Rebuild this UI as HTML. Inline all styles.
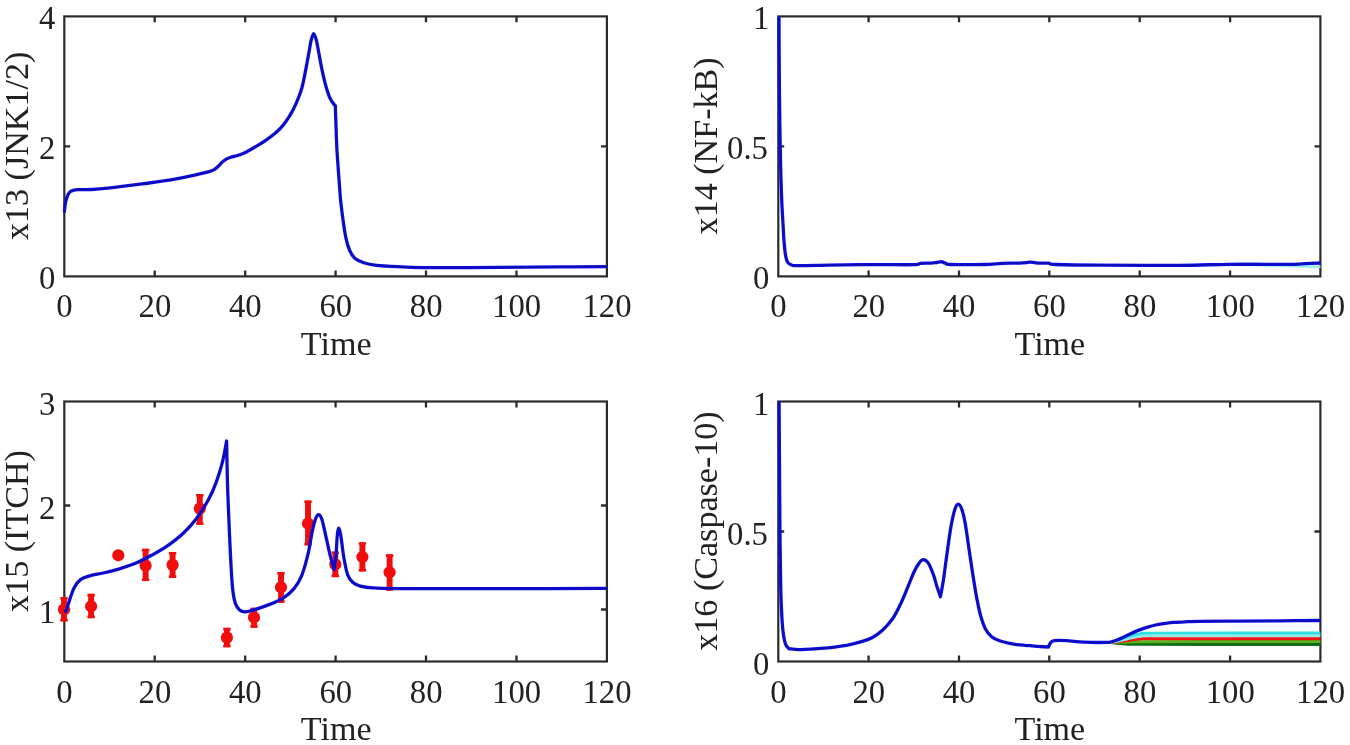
<!DOCTYPE html>
<html lang="en">
<head>
<meta charset="utf-8">
<title>Simulation time courses: x13 (JNK1/2), x14 (NF-kB), x15 (ITCH), x16 (Caspase-10)</title>
<style>
  html, body { margin:0; padding:0; background:#ffffff; }
  body { width:1350px; height:745px; overflow:hidden; font-family:"Liberation Serif", serif; }
  svg { display:block; }
  svg text { font-family:"Liberation Serif", serif; }
</style>
</head>
<body>
<svg width="1350" height="745" viewBox="0 0 1350 745">
<defs><filter id="bl" x="-2%" y="-2%" width="104%" height="104%"><feGaussianBlur stdDeviation="0.7"/></filter></defs>
<rect width="1350" height="745" fill="#fff"/>
<g filter="url(#bl)">
<g id="panel1">
<clipPath id="cp1"><rect x="62.699999999999996" y="14.799999999999999" width="545.8000000000001" height="263.2"/></clipPath>
<rect x="64.3" y="16.4" width="542.6" height="260.0" fill="none" stroke="#2c2c2c" stroke-width="2.2"/>
<path d="M154.7,276.4 v-5.9 M154.7,16.4 v5.9 M245.2,276.4 v-5.9 M245.2,16.4 v5.9 M335.6,276.4 v-5.9 M335.6,16.4 v5.9 M426.0,276.4 v-5.9 M426.0,16.4 v5.9 M516.5,276.4 v-5.9 M516.5,16.4 v5.9 M64.3,146.4 h5.9 M606.9,146.4 h-5.9" stroke="#2c2c2c" stroke-width="2.3" fill="none"/>
<g font-family="'Liberation Serif', serif" font-size="34.5" fill="#222222" letter-spacing="0">
<text transform="translate(64.5,317.4) scale(0.95,1)" text-anchor="middle">0</text>
<text transform="translate(154.9,317.4) scale(0.95,1)" text-anchor="middle">20</text>
<text transform="translate(245.3,317.4) scale(0.95,1)" text-anchor="middle">40</text>
<text transform="translate(335.8,317.4) scale(0.95,1)" text-anchor="middle">60</text>
<text transform="translate(426.2,317.4) scale(0.95,1)" text-anchor="middle">80</text>
<text transform="translate(516.6,317.4) scale(0.95,1)" text-anchor="middle">100</text>
<text transform="translate(607.0,317.4) scale(0.95,1)" text-anchor="middle">120</text>
<text transform="translate(55.3,289.4) scale(0.95,1)" text-anchor="end">0</text>
<text transform="translate(55.3,159.4) scale(0.95,1)" text-anchor="end">2</text>
<text transform="translate(55.3,29.4) scale(0.95,1)" text-anchor="end">4</text>
</g>
<g font-family="'Liberation Serif', serif" font-size="34.1" fill="#222222">
<text x="336.2" y="355.1" text-anchor="middle">Time</text>
<text transform="translate(28.1,145.9) rotate(-90)" text-anchor="middle">x13 (JNK1/2)</text>
</g>
</g>
<g id="panel2">
<clipPath id="cp2"><rect x="776.6999999999999" y="14.799999999999999" width="545.3000000000002" height="263.2"/></clipPath>
<rect x="778.3" y="16.4" width="542.1" height="260.0" fill="none" stroke="#2c2c2c" stroke-width="2.2"/>
<path d="M868.6,276.4 v-5.9 M868.6,16.4 v5.9 M959.0,276.4 v-5.9 M959.0,16.4 v5.9 M1049.3,276.4 v-5.9 M1049.3,16.4 v5.9 M1139.7,276.4 v-5.9 M1139.7,16.4 v5.9 M1230.1,276.4 v-5.9 M1230.1,16.4 v5.9 M778.3,146.4 h5.9 M1320.4,146.4 h-5.9" stroke="#2c2c2c" stroke-width="2.3" fill="none"/>
<g font-family="'Liberation Serif', serif" font-size="34.5" fill="#222222" letter-spacing="0">
<text transform="translate(778.4,317.4) scale(0.95,1)" text-anchor="middle">0</text>
<text transform="translate(868.8,317.4) scale(0.95,1)" text-anchor="middle">20</text>
<text transform="translate(959.1,317.4) scale(0.95,1)" text-anchor="middle">40</text>
<text transform="translate(1049.5,317.4) scale(0.95,1)" text-anchor="middle">60</text>
<text transform="translate(1139.9,317.4) scale(0.95,1)" text-anchor="middle">80</text>
<text transform="translate(1230.2,317.4) scale(0.95,1)" text-anchor="middle">100</text>
<text transform="translate(1320.6,317.4) scale(0.95,1)" text-anchor="middle">120</text>
<text transform="translate(769.3,289.4) scale(0.95,1)" text-anchor="end">0</text>
<text transform="translate(768.0,159.4) scale(0.95,1)" text-anchor="end">0.5</text>
<text transform="translate(769.3,29.4) scale(0.95,1)" text-anchor="end">1</text>
</g>
<g font-family="'Liberation Serif', serif" font-size="34.1" fill="#222222">
<text x="1049.9" y="355.1" text-anchor="middle">Time</text>
<text transform="translate(716.6,145.9) rotate(-90)" text-anchor="middle">x14 (NF-kB)</text>
</g>
</g>
<g id="panel3">
<clipPath id="cp3"><rect x="62.699999999999996" y="399.9" width="545.8000000000001" height="263.2"/></clipPath>
<rect x="64.3" y="401.5" width="542.6" height="260.0" fill="none" stroke="#2c2c2c" stroke-width="2.2"/>
<path d="M154.7,661.5 v-5.9 M154.7,401.5 v5.9 M245.2,661.5 v-5.9 M245.2,401.5 v5.9 M335.6,661.5 v-5.9 M335.6,401.5 v5.9 M426.0,661.5 v-5.9 M426.0,401.5 v5.9 M516.5,661.5 v-5.9 M516.5,401.5 v5.9 M64.3,609.5 h5.9 M606.9,609.5 h-5.9 M64.3,505.5 h5.9 M606.9,505.5 h-5.9" stroke="#2c2c2c" stroke-width="2.3" fill="none"/>
<g font-family="'Liberation Serif', serif" font-size="34.5" fill="#222222" letter-spacing="0">
<text transform="translate(64.5,702.5) scale(0.95,1)" text-anchor="middle">0</text>
<text transform="translate(154.9,702.5) scale(0.95,1)" text-anchor="middle">20</text>
<text transform="translate(245.3,702.5) scale(0.95,1)" text-anchor="middle">40</text>
<text transform="translate(335.8,702.5) scale(0.95,1)" text-anchor="middle">60</text>
<text transform="translate(426.2,702.5) scale(0.95,1)" text-anchor="middle">80</text>
<text transform="translate(516.6,702.5) scale(0.95,1)" text-anchor="middle">100</text>
<text transform="translate(607.0,702.5) scale(0.95,1)" text-anchor="middle">120</text>
<text transform="translate(55.3,622.5) scale(0.95,1)" text-anchor="end">1</text>
<text transform="translate(55.3,518.5) scale(0.95,1)" text-anchor="end">2</text>
<text transform="translate(55.3,414.5) scale(0.95,1)" text-anchor="end">3</text>
</g>
<g font-family="'Liberation Serif', serif" font-size="34.1" fill="#222222">
<text x="336.2" y="740.2" text-anchor="middle">Time</text>
<text transform="translate(28.1,531.0) rotate(-90)" text-anchor="middle">x15 (ITCH)</text>
</g>
</g>
<g id="panel4">
<clipPath id="cp4"><rect x="776.6999999999999" y="399.9" width="545.3000000000002" height="263.2"/></clipPath>
<rect x="778.3" y="401.5" width="542.1" height="260.0" fill="none" stroke="#2c2c2c" stroke-width="2.2"/>
<path d="M868.6,661.5 v-5.9 M868.6,401.5 v5.9 M959.0,661.5 v-5.9 M959.0,401.5 v5.9 M1049.3,661.5 v-5.9 M1049.3,401.5 v5.9 M1139.7,661.5 v-5.9 M1139.7,401.5 v5.9 M1230.1,661.5 v-5.9 M1230.1,401.5 v5.9 M778.3,531.5 h5.9 M1320.4,531.5 h-5.9" stroke="#2c2c2c" stroke-width="2.3" fill="none"/>
<g font-family="'Liberation Serif', serif" font-size="34.5" fill="#222222" letter-spacing="0">
<text transform="translate(778.4,702.5) scale(0.95,1)" text-anchor="middle">0</text>
<text transform="translate(868.8,702.5) scale(0.95,1)" text-anchor="middle">20</text>
<text transform="translate(959.1,702.5) scale(0.95,1)" text-anchor="middle">40</text>
<text transform="translate(1049.5,702.5) scale(0.95,1)" text-anchor="middle">60</text>
<text transform="translate(1139.9,702.5) scale(0.95,1)" text-anchor="middle">80</text>
<text transform="translate(1230.2,702.5) scale(0.95,1)" text-anchor="middle">100</text>
<text transform="translate(1320.6,702.5) scale(0.95,1)" text-anchor="middle">120</text>
<text transform="translate(769.3,674.5) scale(0.95,1)" text-anchor="end">0</text>
<text transform="translate(768.0,544.5) scale(0.95,1)" text-anchor="end">0.5</text>
<text transform="translate(769.3,414.5) scale(0.95,1)" text-anchor="end">1</text>
</g>
<g font-family="'Liberation Serif', serif" font-size="34.1" fill="#222222">
<text x="1049.9" y="740.2" text-anchor="middle">Time</text>
<text transform="translate(716.6,531.0) rotate(-90)" text-anchor="middle">x16 (Caspase-10)</text>
</g>
</g>
<path d="M64.3,212.5 C64.4,211.6 64.6,209.1 64.9,207.0 C65.2,204.9 65.5,202.2 66.1,200.0 C66.7,197.8 67.4,195.6 68.3,194.1 C69.2,192.6 69.8,191.8 71.3,191.1 C72.8,190.4 73.8,190.0 77.2,189.7 C80.7,189.4 85.8,189.9 92.0,189.5 C98.2,189.1 105.6,188.4 114.3,187.4 C123.0,186.4 134.0,185.0 143.9,183.7 C153.8,182.3 164.9,180.8 173.5,179.3 C182.1,177.8 189.5,176.2 195.7,174.8 C201.9,173.4 207.4,172.1 210.6,171.1 C213.8,170.1 213.7,169.8 215.0,169.0 C216.3,168.2 217.3,167.2 218.5,166.0 C219.7,164.8 221.0,163.2 222.2,162.1 C223.4,161.0 224.5,160.2 225.5,159.6 C226.5,158.9 227.8,158.4 228.3,158.2 L228.3,158.2 C228.9,158.0 230.6,157.2 232.0,156.8 C233.4,156.4 234.3,156.6 236.7,155.8 C239.1,155.0 243.2,153.5 246.4,151.9 C249.6,150.3 252.9,148.3 256.1,146.4 C259.3,144.5 262.5,142.6 265.7,140.4 C268.9,138.2 272.6,135.5 275.4,133.1 C278.2,130.7 280.4,128.5 282.6,125.9 C284.8,123.3 286.9,120.2 288.7,117.4 C290.5,114.6 291.9,112.2 293.5,109.0 C295.1,105.8 296.9,101.7 298.3,98.1 C299.7,94.5 300.7,92.4 302.0,87.5 C303.3,82.6 304.8,74.7 305.9,68.9 C307.0,63.1 308.0,57.3 308.9,52.6 C309.8,47.9 310.3,43.7 311.1,40.5 C311.9,37.3 312.7,33.7 313.6,33.6 C314.5,33.5 315.5,37.1 316.3,40.0 C317.1,42.9 317.6,46.5 318.5,51.1 C319.4,55.7 320.4,62.0 321.5,67.4 C322.6,72.8 324.0,79.0 325.2,83.7 C326.4,88.4 327.8,92.6 328.9,95.6 C330.0,98.6 330.8,99.8 331.9,101.5 C333.0,103.2 334.8,105.2 335.4,105.9 L335.4,105.9 C335.4,107.4 335.5,111.5 335.6,114.8 C335.7,118.1 335.8,119.5 336.0,125.5 C336.2,131.5 336.5,142.5 337.0,151.0 C337.5,159.5 338.2,168.0 338.8,176.5 C339.4,185.0 340.0,194.3 340.8,202.0 C341.6,209.7 342.5,216.4 343.4,222.4 C344.2,228.4 344.8,233.1 345.9,237.8 C346.9,242.5 348.2,247.1 349.7,250.5 C351.2,253.9 352.4,256.1 354.8,258.2 C357.2,260.2 360.2,261.6 363.8,262.8 C367.4,264.0 370.1,264.6 376.5,265.3 C382.9,266.0 393.5,266.4 402.0,266.8 C410.5,267.2 411.3,267.5 427.6,267.6 C443.9,267.7 477.9,267.5 500.0,267.4 C522.1,267.3 542.2,267.0 560.0,266.9 C577.8,266.8 599.0,266.7 606.8,266.6" fill="none" stroke="#1010ea" stroke-width="3.3" stroke-linejoin="round" stroke-linecap="butt" clip-path="url(#cp1)"/><path d="M64.3,212.5 C64.4,211.6 64.6,209.1 64.9,207.0 C65.2,204.9 65.5,202.2 66.1,200.0 C66.7,197.8 67.4,195.6 68.3,194.1 C69.2,192.6 69.8,191.8 71.3,191.1 C72.8,190.4 73.8,190.0 77.2,189.7 C80.7,189.4 85.8,189.9 92.0,189.5 C98.2,189.1 105.6,188.4 114.3,187.4 C123.0,186.4 134.0,185.0 143.9,183.7 C153.8,182.3 164.9,180.8 173.5,179.3 C182.1,177.8 189.5,176.2 195.7,174.8 C201.9,173.4 207.4,172.1 210.6,171.1 C213.8,170.1 213.7,169.8 215.0,169.0 C216.3,168.2 217.3,167.2 218.5,166.0 C219.7,164.8 221.0,163.2 222.2,162.1 C223.4,161.0 224.5,160.2 225.5,159.6 C226.5,158.9 227.8,158.4 228.3,158.2 L228.3,158.2 C228.9,158.0 230.6,157.2 232.0,156.8 C233.4,156.4 234.3,156.6 236.7,155.8 C239.1,155.0 243.2,153.5 246.4,151.9 C249.6,150.3 252.9,148.3 256.1,146.4 C259.3,144.5 262.5,142.6 265.7,140.4 C268.9,138.2 272.6,135.5 275.4,133.1 C278.2,130.7 280.4,128.5 282.6,125.9 C284.8,123.3 286.9,120.2 288.7,117.4 C290.5,114.6 291.9,112.2 293.5,109.0 C295.1,105.8 296.9,101.7 298.3,98.1 C299.7,94.5 300.7,92.4 302.0,87.5 C303.3,82.6 304.8,74.7 305.9,68.9 C307.0,63.1 308.0,57.3 308.9,52.6 C309.8,47.9 310.3,43.7 311.1,40.5 C311.9,37.3 312.7,33.7 313.6,33.6 C314.5,33.5 315.5,37.1 316.3,40.0 C317.1,42.9 317.6,46.5 318.5,51.1 C319.4,55.7 320.4,62.0 321.5,67.4 C322.6,72.8 324.0,79.0 325.2,83.7 C326.4,88.4 327.8,92.6 328.9,95.6 C330.0,98.6 330.8,99.8 331.9,101.5 C333.0,103.2 334.8,105.2 335.4,105.9 L335.4,105.9 C335.4,107.4 335.5,111.5 335.6,114.8 C335.7,118.1 335.8,119.5 336.0,125.5 C336.2,131.5 336.5,142.5 337.0,151.0 C337.5,159.5 338.2,168.0 338.8,176.5 C339.4,185.0 340.0,194.3 340.8,202.0 C341.6,209.7 342.5,216.4 343.4,222.4 C344.2,228.4 344.8,233.1 345.9,237.8 C346.9,242.5 348.2,247.1 349.7,250.5 C351.2,253.9 352.4,256.1 354.8,258.2 C357.2,260.2 360.2,261.6 363.8,262.8 C367.4,264.0 370.1,264.6 376.5,265.3 C382.9,266.0 393.5,266.4 402.0,266.8 C410.5,267.2 411.3,267.5 427.6,267.6 C443.9,267.7 477.9,267.5 500.0,267.4 C522.1,267.3 542.2,267.0 560.0,266.9 C577.8,266.8 599.0,266.7 606.8,266.6" fill="none" stroke="#0a0a60" stroke-opacity="0.42" stroke-width="1.5" stroke-linejoin="round" stroke-linecap="butt" clip-path="url(#cp1)"/>
<path d="M1236.0,264.6 C1241.7,264.7 1260.2,265.1 1270.0,265.4 C1279.8,265.6 1286.6,265.9 1295.0,266.1 C1303.4,266.3 1316.2,266.6 1320.4,266.7" fill="none" stroke="#9cecf2" stroke-width="2.6" stroke-linejoin="round" stroke-linecap="butt" clip-path="url(#cp2)"/>
<path d="M779.0,16.4 C779.0,23.7 779.1,46.1 779.2,60.0 C779.3,73.9 779.4,87.5 779.5,100.0 C779.6,112.5 779.8,124.2 780.0,135.0 C780.2,145.8 780.4,156.7 780.6,165.0 C780.8,173.3 781.0,178.8 781.2,185.0 C781.4,191.2 781.5,195.5 781.8,202.0 C782.1,208.5 782.6,217.5 783.0,224.0 C783.4,230.5 783.6,236.2 784.0,241.0 C784.4,245.8 784.8,249.9 785.2,253.0 C785.6,256.1 786.0,257.8 786.5,259.5 C787.0,261.2 787.4,262.1 788.2,263.0 C789.0,263.9 790.0,264.4 791.4,264.9 C792.8,265.3 790.3,265.6 796.6,265.7 C802.9,265.8 816.8,265.4 829.0,265.2 C841.2,265.0 856.0,264.7 870.0,264.6 C884.0,264.5 904.9,264.9 913.3,264.7 C921.7,264.5 917.4,263.6 920.4,263.3 C923.4,263.0 928.3,263.2 931.1,263.1 C933.9,263.0 935.2,262.7 937.0,262.5 C938.8,262.3 941.0,261.8 941.8,261.7 L941.8,261.7 C942.5,262.0 944.5,262.9 946.0,263.4 C947.5,263.9 944.3,264.3 950.7,264.5 C957.1,264.7 975.8,264.7 984.4,264.5 C993.0,264.3 996.3,263.5 1002.2,263.3 C1008.1,263.1 1015.2,263.3 1020.0,263.1 C1024.8,262.9 1027.7,262.2 1030.7,262.2 C1033.7,262.2 1034.8,262.9 1037.8,263.1 C1040.8,263.3 1045.4,263.0 1048.4,263.2 C1051.4,263.4 1047.0,264.2 1055.6,264.5 C1064.2,264.8 1079.3,265.1 1100.0,265.2 C1120.7,265.3 1158.3,265.4 1180.0,265.3 C1201.7,265.2 1211.7,264.5 1230.0,264.3 C1248.3,264.1 1277.5,264.4 1290.0,264.3 C1302.5,264.2 1299.9,263.8 1305.0,263.6 C1310.1,263.4 1317.8,263.1 1320.4,263.0" fill="none" stroke="#1010ea" stroke-width="3.3" stroke-linejoin="round" stroke-linecap="butt" clip-path="url(#cp2)"/><path d="M779.0,16.4 C779.0,23.7 779.1,46.1 779.2,60.0 C779.3,73.9 779.4,87.5 779.5,100.0 C779.6,112.5 779.8,124.2 780.0,135.0 C780.2,145.8 780.4,156.7 780.6,165.0 C780.8,173.3 781.0,178.8 781.2,185.0 C781.4,191.2 781.5,195.5 781.8,202.0 C782.1,208.5 782.6,217.5 783.0,224.0 C783.4,230.5 783.6,236.2 784.0,241.0 C784.4,245.8 784.8,249.9 785.2,253.0 C785.6,256.1 786.0,257.8 786.5,259.5 C787.0,261.2 787.4,262.1 788.2,263.0 C789.0,263.9 790.0,264.4 791.4,264.9 C792.8,265.3 790.3,265.6 796.6,265.7 C802.9,265.8 816.8,265.4 829.0,265.2 C841.2,265.0 856.0,264.7 870.0,264.6 C884.0,264.5 904.9,264.9 913.3,264.7 C921.7,264.5 917.4,263.6 920.4,263.3 C923.4,263.0 928.3,263.2 931.1,263.1 C933.9,263.0 935.2,262.7 937.0,262.5 C938.8,262.3 941.0,261.8 941.8,261.7 L941.8,261.7 C942.5,262.0 944.5,262.9 946.0,263.4 C947.5,263.9 944.3,264.3 950.7,264.5 C957.1,264.7 975.8,264.7 984.4,264.5 C993.0,264.3 996.3,263.5 1002.2,263.3 C1008.1,263.1 1015.2,263.3 1020.0,263.1 C1024.8,262.9 1027.7,262.2 1030.7,262.2 C1033.7,262.2 1034.8,262.9 1037.8,263.1 C1040.8,263.3 1045.4,263.0 1048.4,263.2 C1051.4,263.4 1047.0,264.2 1055.6,264.5 C1064.2,264.8 1079.3,265.1 1100.0,265.2 C1120.7,265.3 1158.3,265.4 1180.0,265.3 C1201.7,265.2 1211.7,264.5 1230.0,264.3 C1248.3,264.1 1277.5,264.4 1290.0,264.3 C1302.5,264.2 1299.9,263.8 1305.0,263.6 C1310.1,263.4 1317.8,263.1 1320.4,263.0" fill="none" stroke="#0a0a60" stroke-opacity="0.42" stroke-width="1.5" stroke-linejoin="round" stroke-linecap="butt" clip-path="url(#cp2)"/>
<g><path d="M64.0,597.1 V621.3" stroke="#f20c0c" stroke-width="5.9" fill="none"/><path d="M60.3,598.3 h7.4 M60.3,620.1 h7.4" stroke="#f20c0c" stroke-width="2.6" fill="none"/><circle cx="64.0" cy="609.4" r="6.1" fill="#f20c0c"/><path d="M91.1,593.9 V618.1" stroke="#f20c0c" stroke-width="5.9" fill="none"/><path d="M87.4,595.1 h7.4 M87.4,616.9 h7.4" stroke="#f20c0c" stroke-width="2.6" fill="none"/><circle cx="91.1" cy="606.2" r="6.1" fill="#f20c0c"/><circle cx="118.3" cy="555.3" r="6.1" fill="#f20c0c"/><path d="M145.6,548.8 V581.0" stroke="#f20c0c" stroke-width="5.9" fill="none"/><path d="M141.9,550.0 h7.4 M141.9,579.8 h7.4" stroke="#f20c0c" stroke-width="2.6" fill="none"/><circle cx="145.6" cy="565.6" r="6.1" fill="#f20c0c"/><path d="M172.6,552.0 V577.8" stroke="#f20c0c" stroke-width="5.9" fill="none"/><path d="M168.9,553.2 h7.4 M168.9,576.6 h7.4" stroke="#f20c0c" stroke-width="2.6" fill="none"/><circle cx="172.6" cy="564.9" r="6.1" fill="#f20c0c"/><path d="M199.8,494.0 V524.7" stroke="#f20c0c" stroke-width="5.9" fill="none"/><path d="M196.1,495.2 h7.4 M196.1,523.5 h7.4" stroke="#f20c0c" stroke-width="2.6" fill="none"/><circle cx="199.8" cy="508.6" r="6.1" fill="#f20c0c"/><path d="M226.9,627.9 V647.2" stroke="#f20c0c" stroke-width="5.9" fill="none"/><path d="M223.2,629.1 h7.4 M223.2,646.0 h7.4" stroke="#f20c0c" stroke-width="2.6" fill="none"/><circle cx="226.9" cy="637.6" r="6.1" fill="#f20c0c"/><path d="M254.0,607.8 V627.7" stroke="#f20c0c" stroke-width="5.9" fill="none"/><path d="M250.3,609.0 h7.4 M250.3,626.5 h7.4" stroke="#f20c0c" stroke-width="2.6" fill="none"/><circle cx="254.0" cy="617.4" r="6.1" fill="#f20c0c"/><path d="M281.0,572.0 V602.7" stroke="#f20c0c" stroke-width="5.9" fill="none"/><path d="M277.3,573.2 h7.4 M277.3,601.5 h7.4" stroke="#f20c0c" stroke-width="2.6" fill="none"/><circle cx="281.0" cy="587.3" r="6.1" fill="#f20c0c"/><path d="M308.0,500.6 V545.3" stroke="#f20c0c" stroke-width="5.9" fill="none"/><path d="M304.3,501.8 h7.4 M304.3,544.1 h7.4" stroke="#f20c0c" stroke-width="2.6" fill="none"/><circle cx="308.0" cy="523.6" r="6.1" fill="#f20c0c"/><path d="M335.3,551.6 V577.1" stroke="#f20c0c" stroke-width="5.9" fill="none"/><path d="M331.6,552.8 h7.4 M331.6,575.9 h7.4" stroke="#f20c0c" stroke-width="2.6" fill="none"/><circle cx="335.3" cy="564.4" r="6.1" fill="#f20c0c"/><path d="M362.4,542.3 V571.4" stroke="#f20c0c" stroke-width="5.9" fill="none"/><path d="M358.7,543.5 h7.4 M358.7,570.2 h7.4" stroke="#f20c0c" stroke-width="2.6" fill="none"/><circle cx="362.4" cy="557.0" r="6.1" fill="#f20c0c"/><path d="M389.6,554.4 V590.6" stroke="#f20c0c" stroke-width="5.9" fill="none"/><path d="M385.9,555.6 h7.4 M385.9,589.4 h7.4" stroke="#f20c0c" stroke-width="2.6" fill="none"/><circle cx="389.6" cy="572.3" r="6.1" fill="#f20c0c"/></g>
<path d="M64.6,612.5 C64.9,612.1 65.5,612.0 66.3,610.0 C67.1,608.0 68.2,604.1 69.5,600.4 C70.8,596.6 72.4,591.0 74.3,587.5 C76.2,584.0 78.1,581.4 80.8,579.4 C83.5,577.4 86.7,576.7 90.4,575.6 C94.2,574.5 98.5,574.1 103.3,573.0 C108.1,571.9 114.0,570.4 119.4,568.8 C124.8,567.2 130.1,565.5 135.5,563.3 C140.9,561.0 146.2,558.2 151.6,555.3 C157.0,552.3 162.3,549.4 167.7,545.6 C173.1,541.8 179.0,537.3 183.8,532.7 C188.6,528.1 192.7,523.6 196.7,518.2 C200.7,512.8 204.8,506.4 208.0,500.5 C211.2,494.6 213.6,489.2 216.0,482.8 C218.4,476.4 220.7,468.9 222.5,461.9 C224.3,454.9 225.9,444.5 226.6,441.0 L226.6,441.0 C226.8,448.2 227.1,471.2 227.5,484.4 C227.9,497.6 228.4,507.5 228.9,520.0 C229.4,532.5 230.1,547.9 230.7,559.3 C231.3,570.7 231.8,581.1 232.6,588.5 C233.4,595.9 234.2,600.0 235.4,603.6 C236.6,607.2 237.9,608.6 239.6,610.0 C241.3,611.4 242.8,611.9 245.5,611.8 C248.2,611.7 251.4,610.6 255.7,609.3 C259.9,608.0 266.3,605.8 271.0,603.9 C275.7,602.0 280.0,600.1 283.8,597.6 C287.6,595.1 291.0,592.2 294.0,588.6 C297.0,585.0 299.3,581.6 301.6,575.9 C303.9,570.2 306.2,561.7 308.0,554.2 C309.8,546.8 311.0,537.2 312.3,531.2 C313.6,525.2 314.6,521.3 315.7,518.5 C316.8,515.7 317.6,514.4 318.7,514.6 C319.8,514.8 320.8,516.1 322.0,519.7 C323.2,523.3 324.5,530.3 325.9,536.3 C327.3,542.3 328.8,550.0 330.2,555.5 C331.6,561.0 333.5,567.2 334.2,569.5 L334.2,569.5 C334.5,567.0 335.6,559.9 336.1,554.2 C336.6,548.5 336.8,539.8 337.3,535.5 C337.8,531.2 338.3,528.1 338.9,528.2 C339.5,528.3 340.1,531.5 340.9,536.3 C341.7,541.0 342.6,550.3 343.7,556.7 C344.8,563.1 346.1,570.4 347.6,574.6 C349.1,578.9 350.6,580.3 352.7,582.2 C354.8,584.1 356.9,585.2 360.3,586.1 C363.7,587.0 366.7,587.5 373.1,587.9 C379.5,588.3 390.8,588.5 398.6,588.6 C406.4,588.7 403.1,588.6 420.0,588.6 C436.9,588.6 468.9,588.6 500.0,588.6 C531.1,588.6 589.0,588.4 606.8,588.4" fill="none" stroke="#1010ea" stroke-width="3.3" stroke-linejoin="round" stroke-linecap="butt" clip-path="url(#cp3)"/><path d="M64.6,612.5 C64.9,612.1 65.5,612.0 66.3,610.0 C67.1,608.0 68.2,604.1 69.5,600.4 C70.8,596.6 72.4,591.0 74.3,587.5 C76.2,584.0 78.1,581.4 80.8,579.4 C83.5,577.4 86.7,576.7 90.4,575.6 C94.2,574.5 98.5,574.1 103.3,573.0 C108.1,571.9 114.0,570.4 119.4,568.8 C124.8,567.2 130.1,565.5 135.5,563.3 C140.9,561.0 146.2,558.2 151.6,555.3 C157.0,552.3 162.3,549.4 167.7,545.6 C173.1,541.8 179.0,537.3 183.8,532.7 C188.6,528.1 192.7,523.6 196.7,518.2 C200.7,512.8 204.8,506.4 208.0,500.5 C211.2,494.6 213.6,489.2 216.0,482.8 C218.4,476.4 220.7,468.9 222.5,461.9 C224.3,454.9 225.9,444.5 226.6,441.0 L226.6,441.0 C226.8,448.2 227.1,471.2 227.5,484.4 C227.9,497.6 228.4,507.5 228.9,520.0 C229.4,532.5 230.1,547.9 230.7,559.3 C231.3,570.7 231.8,581.1 232.6,588.5 C233.4,595.9 234.2,600.0 235.4,603.6 C236.6,607.2 237.9,608.6 239.6,610.0 C241.3,611.4 242.8,611.9 245.5,611.8 C248.2,611.7 251.4,610.6 255.7,609.3 C259.9,608.0 266.3,605.8 271.0,603.9 C275.7,602.0 280.0,600.1 283.8,597.6 C287.6,595.1 291.0,592.2 294.0,588.6 C297.0,585.0 299.3,581.6 301.6,575.9 C303.9,570.2 306.2,561.7 308.0,554.2 C309.8,546.8 311.0,537.2 312.3,531.2 C313.6,525.2 314.6,521.3 315.7,518.5 C316.8,515.7 317.6,514.4 318.7,514.6 C319.8,514.8 320.8,516.1 322.0,519.7 C323.2,523.3 324.5,530.3 325.9,536.3 C327.3,542.3 328.8,550.0 330.2,555.5 C331.6,561.0 333.5,567.2 334.2,569.5 L334.2,569.5 C334.5,567.0 335.6,559.9 336.1,554.2 C336.6,548.5 336.8,539.8 337.3,535.5 C337.8,531.2 338.3,528.1 338.9,528.2 C339.5,528.3 340.1,531.5 340.9,536.3 C341.7,541.0 342.6,550.3 343.7,556.7 C344.8,563.1 346.1,570.4 347.6,574.6 C349.1,578.9 350.6,580.3 352.7,582.2 C354.8,584.1 356.9,585.2 360.3,586.1 C363.7,587.0 366.7,587.5 373.1,587.9 C379.5,588.3 390.8,588.5 398.6,588.6 C406.4,588.7 403.1,588.6 420.0,588.6 C436.9,588.6 468.9,588.6 500.0,588.6 C531.1,588.6 589.0,588.4 606.8,588.4" fill="none" stroke="#0a0a60" stroke-opacity="0.42" stroke-width="1.5" stroke-linejoin="round" stroke-linecap="butt" clip-path="url(#cp3)"/>
<path d="M1112.0,642.6 C1113.3,642.8 1115.3,643.3 1120.0,643.6 C1124.7,643.9 1126.7,644.2 1140.0,644.3 C1153.3,644.4 1169.9,644.4 1200.0,644.4 C1230.1,644.4 1300.3,644.4 1320.4,644.4" fill="none" stroke="#0b6e12" stroke-width="3.0" stroke-linejoin="round" stroke-linecap="butt" clip-path="url(#cp4)"/>
<path d="M1112.0,642.4 C1113.3,642.4 1115.3,642.4 1120.0,642.3 C1124.7,642.2 1126.7,641.9 1140.0,641.8 C1153.3,641.7 1169.9,641.6 1200.0,641.6 C1230.1,641.6 1300.3,641.6 1320.4,641.6" fill="none" stroke="#55b41e" stroke-width="3.0" stroke-linejoin="round" stroke-linecap="butt" clip-path="url(#cp4)"/>
<path d="M1114.0,642.2 C1115.3,642.1 1117.7,641.8 1122.0,641.3 C1126.3,640.8 1133.7,639.4 1140.0,639.0 C1146.3,638.6 1129.9,638.8 1160.0,638.8 C1190.1,638.8 1293.7,638.8 1320.4,638.8" fill="none" stroke="#f01616" stroke-width="3.0" stroke-linejoin="round" stroke-linecap="butt" clip-path="url(#cp4)"/>
<path d="M1114.0,642.2 C1115.7,641.8 1119.7,640.8 1124.0,639.8 C1128.3,638.8 1134.0,637.1 1140.0,636.4 C1146.0,635.7 1129.9,635.8 1160.0,635.7 C1190.1,635.6 1293.7,635.6 1320.4,635.6" fill="none" stroke="#93ecec" stroke-width="2.6" stroke-linejoin="round" stroke-linecap="butt" clip-path="url(#cp4)"/>
<path d="M1114.0,641.6 C1115.7,641.0 1119.7,639.1 1124.0,637.8 C1128.3,636.5 1134.0,634.7 1140.0,633.9 C1146.0,633.1 1129.9,633.2 1160.0,633.1 C1190.1,633.0 1293.7,633.0 1320.4,633.0" fill="none" stroke="#2fe0e0" stroke-width="2.9" stroke-linejoin="round" stroke-linecap="butt" clip-path="url(#cp4)"/>
<path d="M779.1,401.5 C779.1,409.6 779.3,433.6 779.4,450.0 C779.5,466.4 779.6,484.2 779.7,500.0 C779.8,515.8 780.0,531.7 780.1,545.0 C780.2,558.3 780.4,570.0 780.6,580.0 C780.8,590.0 781.0,598.0 781.3,605.0 C781.6,612.0 781.9,617.2 782.2,622.0 C782.5,626.8 782.9,630.4 783.3,633.5 C783.7,636.6 784.1,638.6 784.5,640.5 C784.9,642.4 785.2,643.5 785.8,644.7 C786.3,645.9 787.0,646.9 787.8,647.6 C788.6,648.3 788.3,648.6 790.4,648.9 C792.5,649.2 795.5,649.7 800.6,649.6 C805.7,649.5 813.4,649.1 821.0,648.4 C828.6,647.7 839.7,646.4 846.5,645.3 C853.3,644.1 857.5,642.8 861.8,641.5 C866.0,640.2 868.6,639.5 872.0,637.7 C875.4,635.9 878.8,633.6 882.2,630.5 C885.6,627.4 889.4,623.2 892.4,619.0 C895.4,614.8 897.5,610.3 900.1,605.0 C902.7,599.7 905.5,592.6 907.8,587.1 C910.1,581.6 912.2,575.8 914.1,571.8 C916.0,567.8 917.7,564.9 919.2,562.9 C920.7,560.9 921.6,559.6 923.1,559.6 C924.6,559.6 926.5,560.4 928.2,562.9 C929.9,565.4 931.8,570.4 933.3,574.4 C934.8,578.4 935.9,583.4 937.1,587.1 C938.3,590.8 939.9,595.2 940.4,596.8 L940.4,596.8 C940.9,593.9 942.4,587.1 943.5,579.5 C944.6,571.9 946.0,560.3 947.3,551.4 C948.6,542.5 949.8,532.9 951.1,525.9 C952.4,518.9 953.7,512.9 954.9,509.3 C956.1,505.7 957.1,504.2 958.3,504.2 C959.4,504.2 960.6,506.1 961.8,509.3 C962.9,512.5 964.0,516.8 965.2,523.4 C966.4,530.0 967.7,540.4 969.0,548.9 C970.3,557.4 971.5,566.3 972.8,574.4 C974.1,582.5 975.3,590.5 976.6,597.3 C977.9,604.1 979.0,609.9 980.5,615.2 C982.0,620.5 983.7,625.6 985.6,629.2 C987.5,632.8 989.6,635.0 991.9,636.9 C994.2,638.8 996.2,639.6 999.6,640.7 C1003.0,641.9 1008.0,643.0 1012.3,643.8 C1016.5,644.6 1020.8,644.9 1025.1,645.3 C1029.4,645.7 1034.0,646.0 1037.9,646.3 C1041.8,646.6 1046.7,646.9 1048.5,647.0 L1048.5,647.0 C1048.8,646.3 1049.6,643.9 1050.6,642.8 C1051.6,641.7 1051.7,641.0 1054.4,640.6 C1057.1,640.2 1061.7,640.4 1066.7,640.7 C1071.7,641.0 1077.7,641.9 1084.4,642.2 C1091.1,642.5 1102.1,642.5 1106.7,642.4 C1111.3,642.3 1110.2,642.0 1112.0,641.6 C1113.8,641.2 1115.3,640.8 1117.8,639.8 C1120.3,638.8 1123.8,636.9 1127.0,635.4 C1130.2,633.9 1133.8,632.2 1137.0,630.9 C1140.2,629.6 1142.9,628.6 1146.0,627.6 C1149.1,626.6 1152.4,625.7 1155.6,625.0 C1158.8,624.3 1161.9,623.8 1165.0,623.4 C1168.1,623.0 1170.3,622.7 1174.0,622.4 C1177.7,622.1 1182.7,621.9 1187.0,621.7 C1191.3,621.5 1191.2,621.4 1200.0,621.3 C1208.8,621.2 1226.7,621.2 1240.0,621.1 C1253.3,621.0 1266.6,620.9 1280.0,620.8 C1293.4,620.7 1313.7,620.5 1320.4,620.5" fill="none" stroke="#1010ea" stroke-width="3.3" stroke-linejoin="round" stroke-linecap="butt" clip-path="url(#cp4)"/><path d="M779.1,401.5 C779.1,409.6 779.3,433.6 779.4,450.0 C779.5,466.4 779.6,484.2 779.7,500.0 C779.8,515.8 780.0,531.7 780.1,545.0 C780.2,558.3 780.4,570.0 780.6,580.0 C780.8,590.0 781.0,598.0 781.3,605.0 C781.6,612.0 781.9,617.2 782.2,622.0 C782.5,626.8 782.9,630.4 783.3,633.5 C783.7,636.6 784.1,638.6 784.5,640.5 C784.9,642.4 785.2,643.5 785.8,644.7 C786.3,645.9 787.0,646.9 787.8,647.6 C788.6,648.3 788.3,648.6 790.4,648.9 C792.5,649.2 795.5,649.7 800.6,649.6 C805.7,649.5 813.4,649.1 821.0,648.4 C828.6,647.7 839.7,646.4 846.5,645.3 C853.3,644.1 857.5,642.8 861.8,641.5 C866.0,640.2 868.6,639.5 872.0,637.7 C875.4,635.9 878.8,633.6 882.2,630.5 C885.6,627.4 889.4,623.2 892.4,619.0 C895.4,614.8 897.5,610.3 900.1,605.0 C902.7,599.7 905.5,592.6 907.8,587.1 C910.1,581.6 912.2,575.8 914.1,571.8 C916.0,567.8 917.7,564.9 919.2,562.9 C920.7,560.9 921.6,559.6 923.1,559.6 C924.6,559.6 926.5,560.4 928.2,562.9 C929.9,565.4 931.8,570.4 933.3,574.4 C934.8,578.4 935.9,583.4 937.1,587.1 C938.3,590.8 939.9,595.2 940.4,596.8 L940.4,596.8 C940.9,593.9 942.4,587.1 943.5,579.5 C944.6,571.9 946.0,560.3 947.3,551.4 C948.6,542.5 949.8,532.9 951.1,525.9 C952.4,518.9 953.7,512.9 954.9,509.3 C956.1,505.7 957.1,504.2 958.3,504.2 C959.4,504.2 960.6,506.1 961.8,509.3 C962.9,512.5 964.0,516.8 965.2,523.4 C966.4,530.0 967.7,540.4 969.0,548.9 C970.3,557.4 971.5,566.3 972.8,574.4 C974.1,582.5 975.3,590.5 976.6,597.3 C977.9,604.1 979.0,609.9 980.5,615.2 C982.0,620.5 983.7,625.6 985.6,629.2 C987.5,632.8 989.6,635.0 991.9,636.9 C994.2,638.8 996.2,639.6 999.6,640.7 C1003.0,641.9 1008.0,643.0 1012.3,643.8 C1016.5,644.6 1020.8,644.9 1025.1,645.3 C1029.4,645.7 1034.0,646.0 1037.9,646.3 C1041.8,646.6 1046.7,646.9 1048.5,647.0 L1048.5,647.0 C1048.8,646.3 1049.6,643.9 1050.6,642.8 C1051.6,641.7 1051.7,641.0 1054.4,640.6 C1057.1,640.2 1061.7,640.4 1066.7,640.7 C1071.7,641.0 1077.7,641.9 1084.4,642.2 C1091.1,642.5 1102.1,642.5 1106.7,642.4 C1111.3,642.3 1110.2,642.0 1112.0,641.6 C1113.8,641.2 1115.3,640.8 1117.8,639.8 C1120.3,638.8 1123.8,636.9 1127.0,635.4 C1130.2,633.9 1133.8,632.2 1137.0,630.9 C1140.2,629.6 1142.9,628.6 1146.0,627.6 C1149.1,626.6 1152.4,625.7 1155.6,625.0 C1158.8,624.3 1161.9,623.8 1165.0,623.4 C1168.1,623.0 1170.3,622.7 1174.0,622.4 C1177.7,622.1 1182.7,621.9 1187.0,621.7 C1191.3,621.5 1191.2,621.4 1200.0,621.3 C1208.8,621.2 1226.7,621.2 1240.0,621.1 C1253.3,621.0 1266.6,620.9 1280.0,620.8 C1293.4,620.7 1313.7,620.5 1320.4,620.5" fill="none" stroke="#0a0a60" stroke-opacity="0.42" stroke-width="1.5" stroke-linejoin="round" stroke-linecap="butt" clip-path="url(#cp4)"/>
</g>
</svg>
</body>
</html>
